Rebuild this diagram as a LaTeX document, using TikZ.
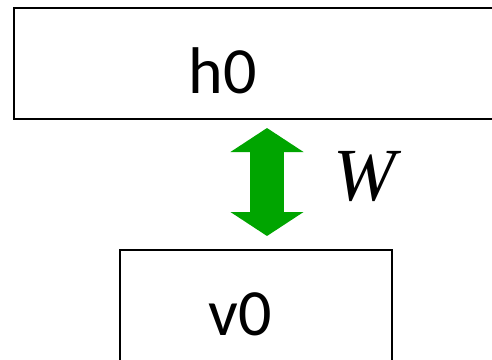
\documentclass[tikz,border=0pt]{standalone}
\usepackage{fontspec}
\setmainfont{Carlito}
\newfontfamily\wfont{Liberation Serif}
\usetikzlibrary{arrows.meta}
\definecolor{wgreen}{RGB}{0,165,0}
\tikzset{
  layerbox/.style={draw=black, line width=1.3pt, fill=white, inner sep=0pt},
  layerlabel/.style={anchor=base, inner sep=0pt, font=\fontsize{66}{72}\selectfont},
  wbar/.style={wgreen, line width=34pt, {Triangle[length=24pt,width=72pt]}-{Triangle[length=24pt,width=72pt]}},
}

\begin{document}
\begin{tikzpicture}[x=1pt,y=-1pt]
  \useasboundingbox (0,0) rectangle (492,359);
  \clip (0,0) rectangle (492,359);

  \node[layerbox, minimum width=506pt, minimum height=111pt] (hbox) at (267,63.5) {};
  \node[layerlabel] (h0) at (223,93) {h0};

  \node[layerbox, minimum width=272pt, minimum height=130pt] (vbox) at (256,315) {};
  \node[layerlabel] (v0) at (240,335) {v0};

  \coordinate (wtop) at (267,128);
  \coordinate (wbot) at (267,236);
  \draw[wbar] (wtop) -- (wbot);
  \node[anchor=base, inner sep=0pt, font=\wfont\itshape\fontsize{75}{80}\selectfont] (w) at (365,200) {W};
\end{tikzpicture}
\end{document}
